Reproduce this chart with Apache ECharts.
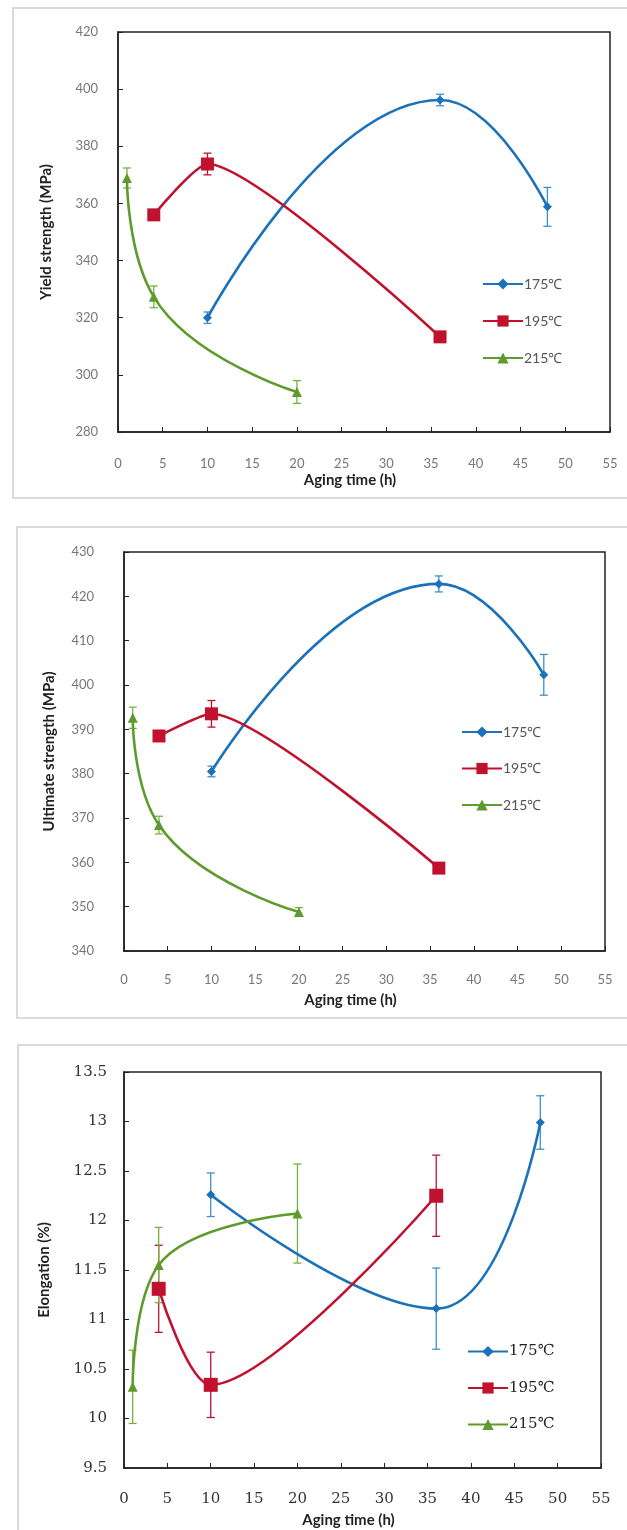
<!DOCTYPE html>
<html>
<head>
<meta charset="utf-8">
<script src="https://cdn.jsdelivr.net/npm/echarts@6/dist/echarts.min.js"></script>
<style>
  html, body { margin: 0; padding: 0; background: #fff; }
  #chart { width: 627px; height: 1530px; }
</style>
</head>
<body>
<div id="chart"></div>
<script>
// aging temperatures and the aging times measured for each one
const temps = ['175℃', '195℃', '215℃']
const hours175 = [10, 36, 48]
const hours195 = [4, 10, 36]
const hours215 = [1, 4, 20]

// yield strength (MPa) and error half-widths
const yield175 = [320, 396.2, 358.8]
const yield195 = [356, 373.8, 313.3]
const yield215 = [368.9, 327.3, 294]
const yieldErr175 = [2, 2, 6.8]
const yieldErr195 = [1.5, 3.8, 1.5]
const yieldErr215 = [3.5, 3.8, 4]

// ultimate strength (MPa)
const uts175 = [380.5, 422.8, 402.3]
const uts195 = [388.5, 393.5, 358.7]
const uts215 = [392.6, 368.4, 348.8]
const utsErr175 = [1.2, 1.8, 4.6]
const utsErr195 = [1, 3, 1]
const utsErr215 = [2.4, 2, 1]

// elongation (%)
const elong175 = [12.26, 11.11, 12.99]
const elong195 = [11.31, 10.34, 12.25]
const elong215 = [10.32, 11.55, 12.07]
const elongErr175 = [0.22, 0.41, 0.27]
const elongErr195 = [0.44, 0.33, 0.41]
const elongErr215 = [0.37, 0.38, 0.5]

const xTicks = [0, 55, 5]   // min, max, interval of aging time axis

const colors = ['#1b72b8', '#c0122f', '#5f9a2c']
const errColors = ['#3f8fd0', '#c0122f', '#78b048']
const symbols = ['diamond', 'rect', 'triangle']
const hours = [hours175, hours195, hours215]

const chart = echarts.init(document.getElementById('chart'))

function errRender(color) {
  return function (params, api) {
    const x = api.value(0), y = api.value(1), e = api.value(2)
    const top = api.coord([x, y + e])
    const bot = api.coord([x, y - e])
    const hw = 4
    const style = { stroke: color, lineWidth: 1.3 }
    return {
      type: 'group',
      children: [
        { type: 'line', shape: { x1: top[0], y1: top[1], x2: bot[0], y2: bot[1] }, style: style },
        { type: 'line', shape: { x1: top[0] - hw, y1: top[1], x2: top[0] + hw, y2: top[1] }, style: style },
        { type: 'line', shape: { x1: bot[0] - hw, y1: bot[1], x2: bot[0] + hw, y2: bot[1] }, style: style }
      ]
    }
  }
}

function panelSeries(p, values, errs, sizes, smooths) {
  const out = []
  for (let i = 0; i < 3; i++) {
    out.push({
      type: 'custom',
      name: 'err' + p + i,
      xAxisIndex: p,
      yAxisIndex: p,
      silent: true,
      z: 2,
      encode: { x: 0, y: 1 },
      data: hours[i].map((h, k) => [h, values[i][k], errs[i][k]]),
      renderItem: errRender(errColors[i])
    })
    out.push({
      type: 'line',
      name: temps[i],
      xAxisIndex: p,
      yAxisIndex: p,
      smooth: smooths[i],
      symbol: symbols[i],
      symbolSize: sizes[i],
      z: 3,
      lineStyle: { width: 2.6, color: colors[i] },
      itemStyle: { color: colors[i] },
      data: hours[i].map((h, k) => [h, values[i][k]])
    })
  }
  return out
}

const sansLabel = { color: '#777', fontFamily: 'Lato', fontSize: 13 }
const serifLabel = { color: '#333', fontFamily: 'DejaVu Serif', fontSize: 15 }
const nameStyle = { color: '#222', fontFamily: 'Lato', fontWeight: 'bold', fontSize: 15 }

function xAxis(idx, labelStyle, margin, gap) {
  return {
    type: 'value',
    gridIndex: idx,
    min: xTicks[0],
    max: xTicks[1],
    interval: xTicks[2],
    name: 'Aging time (h)',
    nameLocation: 'middle',
    nameGap: gap,
    nameTextStyle: Object.assign({ padding: [0, 28, 0, 0] }, nameStyle),
    axisLine: { lineStyle: { color: '#222', width: 1.5 } },
    axisTick: { inside: true, length: 5, lineStyle: { color: '#222' } },
    axisLabel: Object.assign({ margin: margin }, labelStyle),
    splitLine: { show: false }
  }
}

function yAxis(idx, name, min, max, interval, labelStyle, margin, gap) {
  return {
    type: 'value',
    gridIndex: idx,
    min: min,
    max: max,
    interval: interval,
    name: name,
    nameLocation: 'middle',
    nameGap: gap,
    nameTextStyle: nameStyle,
    axisLine: { show: true, lineStyle: { color: '#222', width: 1.5 } },
    axisTick: { show: true, inside: true, length: 5, lineStyle: { color: '#222' } },
    axisLabel: Object.assign({ margin: margin }, labelStyle),
    splitLine: { show: false }
  }
}

function legend(left, top, gap, textStyle) {
  return {
    data: temps,
    orient: 'vertical',
    left: left,
    top: top,
    itemWidth: 40,
    itemHeight: 14,
    itemGap: gap,
    selectedMode: false,
    textStyle: Object.assign({ padding: [0, 0, 0, -4] }, textStyle)
  }
}

const gridBase = { show: true, borderColor: '#222', borderWidth: 1.5, backgroundColor: 'transparent' }

const option = {
  backgroundColor: '#fff',
  animation: false,
  graphic: [
    { type: 'rect', silent: true, z: -10, shape: { x: 13, y: 8, width: 640, height: 490 }, style: { fill: 'none', stroke: '#cfcfcf', lineWidth: 1.5 } },
    { type: 'rect', silent: true, z: -10, shape: { x: 17, y: 527, width: 640, height: 491 }, style: { fill: 'none', stroke: '#cfcfcf', lineWidth: 1.5 } },
    { type: 'rect', silent: true, z: -10, shape: { x: 18, y: 1045, width: 640, height: 520 }, style: { fill: 'none', stroke: '#cfcfcf', lineWidth: 1.5 } }
  ],
  grid: [
    Object.assign({ left: 118, width: 492, top: 32, height: 400 }, gridBase),
    Object.assign({ left: 124, width: 481, top: 552, height: 399 }, gridBase),
    Object.assign({ left: 124, width: 477, top: 1072, height: 396 }, gridBase)
  ],
  xAxis: [
    xAxis(0, sansLabel, 25, 41),
    xAxis(1, sansLabel, 22, 42),
    xAxis(2, serifLabel, 24, 45)
  ],
  yAxis: [
    yAxis(0, 'Yield strength (MPa)', 280, 420, 20, sansLabel, 20, 64),
    yAxis(1, 'Ultimate strength (MPa)', 340, 430, 10, sansLabel, 30, 67),
    yAxis(2, 'Elongation (%)', 9.5, 13.5, 0.5, serifLabel, 17, 72)
  ],
  legend: [
    legend(477, 272, 23, { color: '#555', fontFamily: 'Lato', fontSize: 14 }),
    legend(456, 720, 22.5, { color: '#555', fontFamily: 'Lato', fontSize: 14 }),
    legend(462, 1339, 21.5, { color: '#222', fontFamily: 'DejaVu Serif', fontSize: 15 })
  ],
  series: [].concat(
    panelSeries(0, [yield175, yield195, yield215], [yieldErr175, yieldErr195, yieldErr215], [9, 13, 10], [0.5, 0.2, 0.5]),
    panelSeries(1, [uts175, uts195, uts215], [utsErr175, utsErr195, utsErr215], [9, 13, 10], [0.5, 0.2, 0.5]),
    panelSeries(2, [elong175, elong195, elong215], [elongErr175, elongErr195, elongErr215], [9, 14, 10], [0.45, 0.3, 0.45])
  )
}

chart.setOption(option)
</script>
</body>
</html>
